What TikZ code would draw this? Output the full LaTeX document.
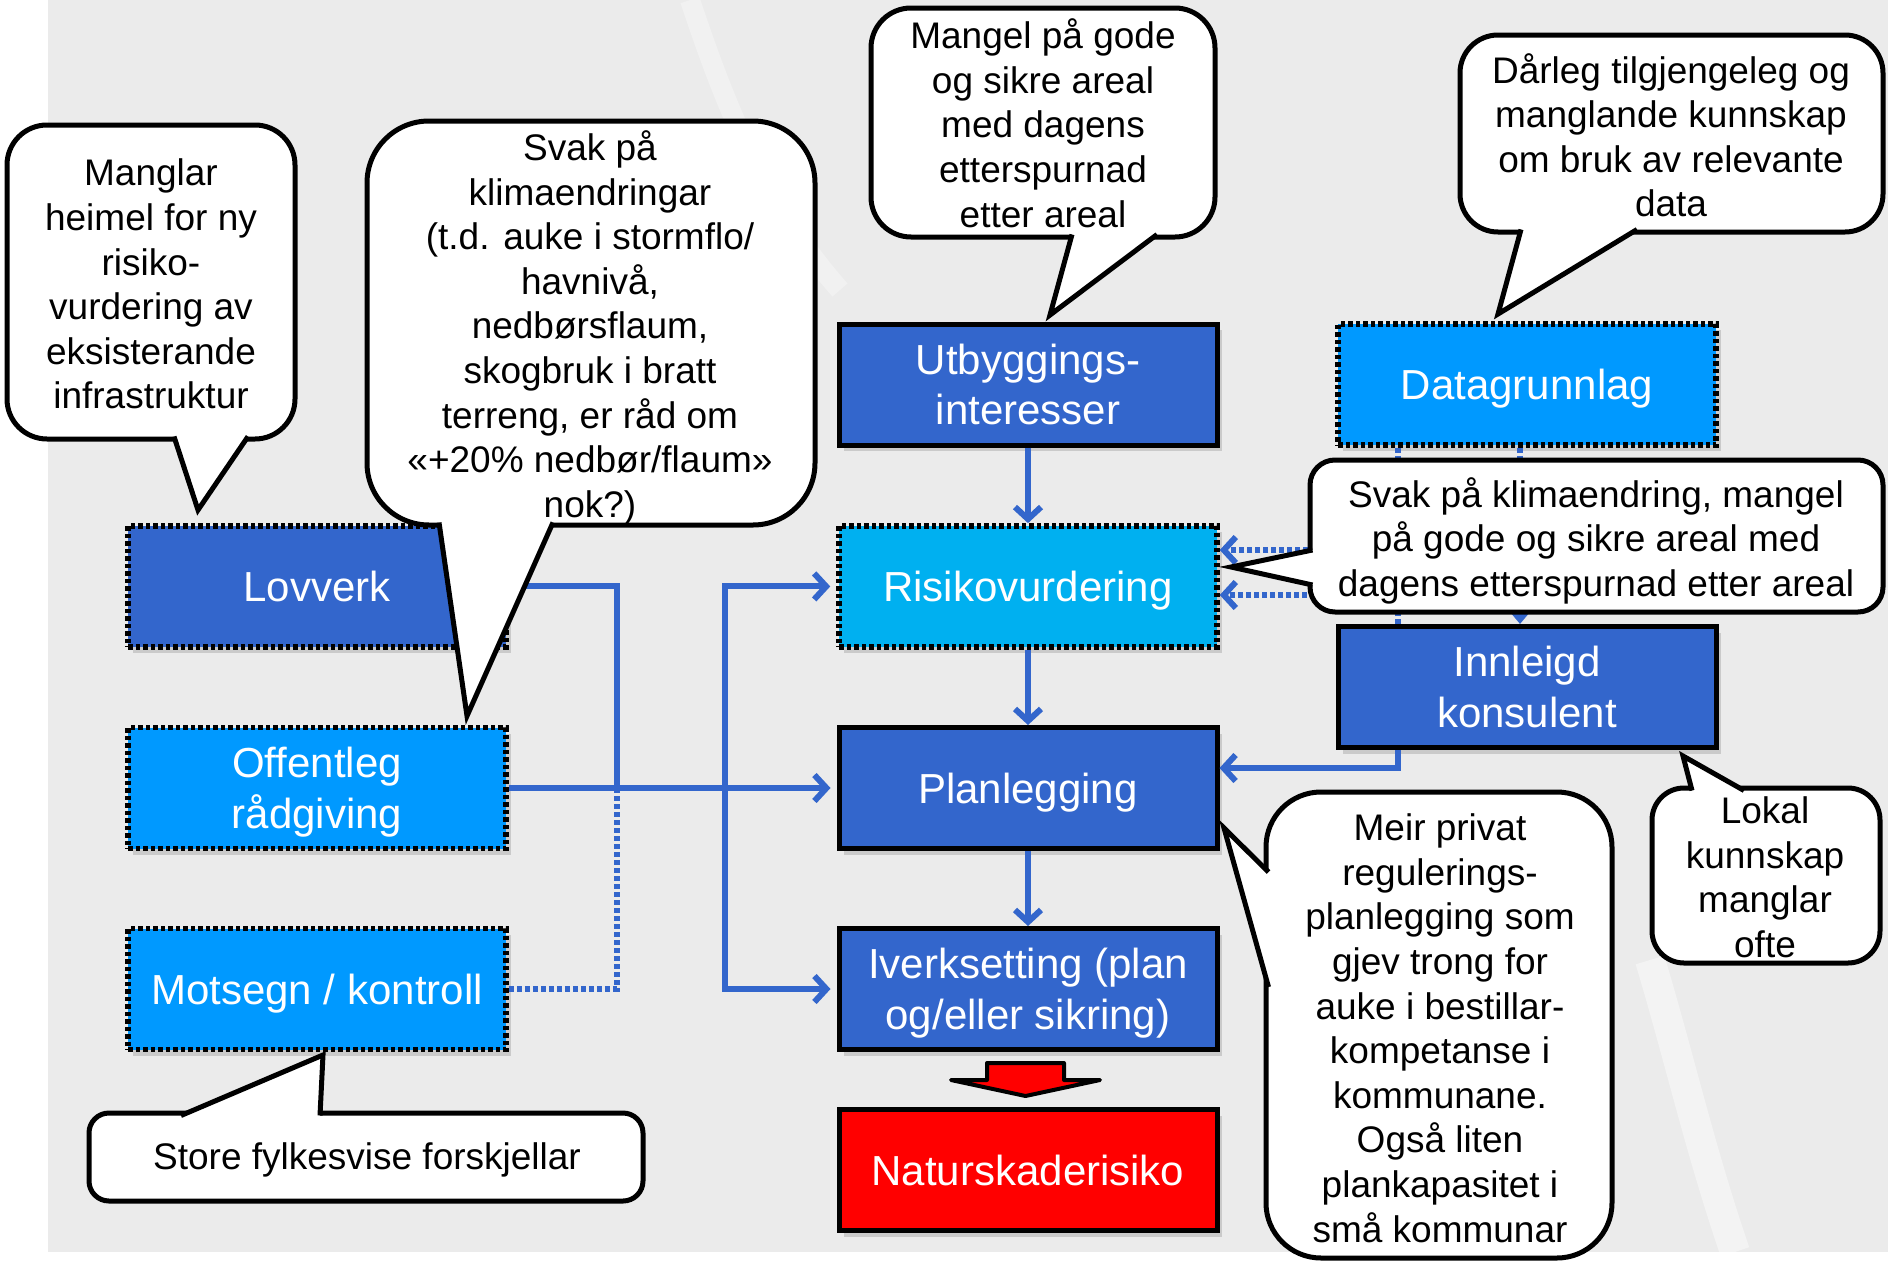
\documentclass[tikz,border=0pt]{standalone}
\usepackage{fontspec}
\setmainfont{Liberation Sans}
\usetikzlibrary{arrows.meta,shadows,calc}
\definecolor{dblue}{HTML}{3366CC}
\definecolor{bblue}{HTML}{0099FF}
\definecolor{cblue}{HTML}{00B0F0}
\definecolor{bgc}{HTML}{EBEBEB}
\definecolor{lnkcol}{HTML}{3366CC}
\newcommand\bxfont{\fontsize{42}{50.5}\selectfont}
\newcommand\clfont{\fontsize{37}{44.6}\selectfont}
% #1 base1, #2 tip, #3 base2, #4/#5 inward offset
\newcommand\tailpart[5]{%
  \fill[white] ($(#1)+(1.3*#4,1.3*#5)$) -- (#2) -- ($(#3)+(1.3*#4,1.3*#5)$) -- cycle;
  \draw[ctail] ($(#1)+(#4,#5)$) -- (#2) -- ($(#3)+(#4,#5)$);}
\begin{document}
\begin{tikzpicture}[x=1pt,y=-1pt,
  box/.style={minimum width=378pt,minimum height=121pt,inner sep=0pt,align=center,
    text=white,font=\bxfont,text depth=0pt,
    drop shadow={shadow xshift=5pt,shadow yshift=-6pt,opacity=0.3}},
  solidbox/.style={box,draw=black,line width=5pt},
  dotbox/.style={box,draw=black,line width=5.5pt,dash pattern=on 4.5pt off 3pt},
  cbody/.style={draw=black,fill=white,line width=5pt},
  ctail/.style={draw=black,line width=5pt,line join=miter},
  ctext/.style={align=center,font=\clfont,inner sep=0pt,text=black,text depth=0pt},
  cline/.style={draw=lnkcol,line width=6pt},
  carrow/.style={cline,-{Straight Barb[length=12pt,width=26pt]}},
  cdots/.style={draw=lnkcol,line width=6pt,dash pattern=on 5pt off 3pt},
  cdotarrow/.style={cdots,-{Straight Barb[length=12pt,width=26pt]}}]
\useasboundingbox (0,0) rectangle (1888,1261);
% background
\fill[white] (0,0) rectangle (1888,1261);
\fill[bgc] (48,0) rectangle (1888,1252);
\draw[white,opacity=0.3,line width=20pt] (690,0) .. controls (720,90) and (760,200) .. (840,290);
\draw[white,opacity=0.4,line width=30pt] (1650,960) .. controls (1680,1060) and (1700,1150) .. (1735,1252);

% boxes
\node[dotbox,fill=dblue] (lov) at (317,586.4) {Lovverk};
\node[dotbox,fill=bblue] (off) at (317,788) {Offentleg\\rådgiving};
\node[dotbox,fill=bblue] (mot) at (317,989) {Motsegn / kontroll};
\node[solidbox,fill=dblue] (utb) at (1028,384.5) {Utbyggings-\\interesser};
\node[dotbox,fill=bblue] (dat) at (1527,384.5) {Datagrunnlag};
\node[dotbox,fill=cblue] (risk) at (1028,586.4) {Risikovurdering};
\node[solidbox,fill=dblue] (inn) at (1527,687) {Innleigd\\konsulent};
\node[solidbox,fill=dblue] (plan) at (1028,788) {Planlegging};
\node[solidbox,fill=dblue] (iver) at (1028,989) {Iverksetting (plan\\og/eller sikring)};
\node[solidbox,fill=red] (nat) at (1028,1170) {Naturskaderisiko};

% connectors
\coordinate (j1) at (616.5,586.4);
\coordinate (j2) at (616.5,788);
\coordinate (j3) at (616.5,989);
\coordinate (bus) at (724.5,788);
\draw[cline] (lov.east) -- (j1) -- (j2);
\draw[cdots] (mot.east) -- (j3) -- (j2);
\draw[carrow,shorten >=6pt] (off.east) -- (plan.west);
\draw[carrow,shorten >=6pt] (bus) |- (risk.west);
\draw[carrow,shorten >=6pt] (bus) |- (iver.west);
\draw[carrow] (utb.south) -- (risk.north);
\draw[carrow] (risk.south) -- (plan.north);
\draw[carrow] (plan.south) -- (iver.north);
\coordinate (k1) at (1398,768);
\draw[carrow] (inn.south -| k1) -- (k1) -- (k1 -| plan.east);
\coordinate (d1) at (1398,550);
\coordinate (d2) at (1398,595);
\coordinate (d3) at (1520,500);
\draw[cdotarrow] (dat.south -| d1) -- (d1) -- (d1 -| risk.east);
\draw[cdotarrow] (inn.north -| d2) -- (d2) -- (d2 -| risk.east);
\draw[cdots,-{Triangle[length=10pt,width=16pt]}] (dat.south -| d3) -- (inn.north -| d3);

% block arrow
\draw[line width=4pt,fill=red,line join=round] (987,1063) -- (1064,1063) -- (1064,1080) -- (1100,1080) -- (1025.5,1096) -- (951,1080) -- (987,1080) -- cycle;

% callouts
\draw[cbody,rounded corners=40pt] (7,125) rectangle (295,439);
\tailpart{174,439}{198,510}{248,439}{0}{-2.5}
\node[ctext] (t1) at (151,284) {Manglar\\heimel for ny\\risiko-\\vurdering av\\eksisterande\\infrastruktur};

\draw[cbody,rounded corners=62pt] (367,121) rectangle (815,525);
\tailpart{439,525}{467,716}{553,525}{0}{-2.5}
\node[ctext] (t2) at (590,324) {Svak på\\klimaendringar\\(t.d. auke i stormflo/\\havnivå,\\nedbørsflaum,\\skogbruk i bratt\\terreng, er råd om\\«+20\% nedbør/flaum»\\nok?)};

\draw[cbody,rounded corners=40pt] (871,8) rectangle (1215,237);
\tailpart{1072,237}{1050,315}{1157,237}{0}{-2.5}
\node[ctext] (t3) at (1043,123) {Mangel på gode\\og sikre areal\\med dagens\\etterspurnad\\etter areal};

\draw[cbody,rounded corners=38pt] (1460,35) rectangle (1883,232);
\tailpart{1521,232}{1498,314}{1637,232}{0}{-2.5}
\node[ctext] (t4) at (1671,135) {Dårleg tilgjengeleg og\\manglande kunnskap\\om bruk av relevante\\data};

\draw[cbody,rounded corners=25pt] (1310,460) rectangle (1883,612);
\tailpart{1310,550}{1231,567}{1310,585}{2.5}{0}
\node[ctext] (t5) at (1596,537) {Svak på klimaendring, mangel\\på gode og sikre areal med\\dagens etterspurnad etter areal};

\draw[cbody,rounded corners=55pt] (1266,792) rectangle (1612,1258);
\tailpart{1266,872}{1224,828}{1266,987}{2.5}{0}
\node[ctext] (t6) at (1440,1028) {Meir privat\\regulerings-\\planlegging som\\gjev trong for\\auke i bestillar-\\kompetanse i\\kommunane.\\Også liten\\plankapasitet i\\små kommunar};

\draw[cbody,rounded corners=32pt] (1652,788) rectangle (1880,963);
\tailpart{1692,788}{1683,756}{1744,788}{0}{2.5}
\node[ctext] (t7) at (1765,877) {Lokal\\kunnskap\\manglar\\ofte};

\draw[cbody,rounded corners=20pt] (89,1113) rectangle (643,1201);
\tailpart{181,1113}{323,1055}{320,1113}{0}{2.5}
\node[ctext] (t8) at (367,1156) {Store fylkesvise forskjellar};
\end{tikzpicture}
\end{document}
